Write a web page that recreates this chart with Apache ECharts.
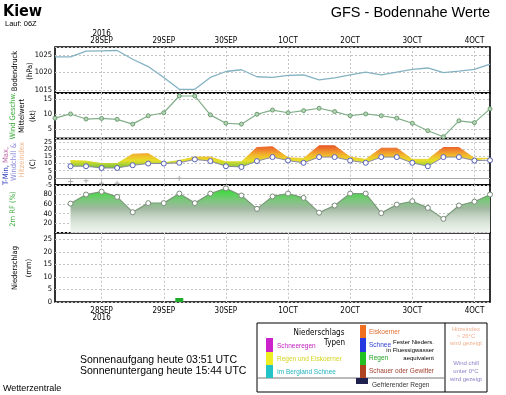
<!DOCTYPE html>
<html><head><meta charset="utf-8">
<script src="https://cdn.jsdelivr.net/npm/echarts@6/dist/echarts.min.js"></script>
<style>html,body{margin:0;padding:0;background:#fff}#c{width:506px;height:395px}</style>
</head><body><div id="c"></div>
<script>
// ---------- data ----------
const hours = [-18,-12,-6,0,6,12,18,24,30,36,42,48,54,60,66,72,78,84,90,96,102,108,114,120,126,132,138,144,150];
const dayHours = [0,24,48,72,96,120,144];
const dayNames = ['28SEP','29SEP','30SEP','1OCT','2OCT','3OCT','4OCT'];
const yearLabel = '2016';
const pressure = [1024.5,1024.5,1026.1,1026.2,1026.3,1023.8,1021.7,1018.6,1015.2,1015.2,1018.6,1020.3,1020.8,1018.8,1018.6,1019.2,1019.3,1017.9,1018.5,1019.3,1020.1,1019.3,1020.1,1020.9,1021.3,1020.0,1020.4,1020.9,1022.4];
const wind = [8.6,10,8.3,8.5,8.2,6.6,9.4,10.4,16,16,9.7,6.9,6.6,9.9,11.3,10.4,11.1,11.9,10.8,9.4,10,9.4,8.6,6.9,4.4,2.4,7.7,7.1,11.7];
const tempLow = [null,8.1,8.1,6.9,6.9,8.8,10,10,10.5,12.9,11.7,8.1,7.6,11.7,14.5,12.1,10.5,14.5,14.5,12.1,10.5,14.5,14.5,10.5,8.1,14.5,14.5,12.1,12.3];
const tempHigh = [null,12.1,11.7,10,10,16.5,16.9,10.5,12.1,14.5,14.5,11.2,11.2,21.2,21.7,14,13.6,22.4,22.4,14.5,12.9,20.7,20.7,12.9,12.9,21.2,21.2,13.6,13.6];
const windchill = [null,-2.6,-2.1,-3.8,-3.8,null,null,null,-0.2,null,null,null,null,null,null,null,null,null,null,null,null,null,null,null,null,null,null,null,null];
const rh = [null,61,80,86,75,43,62,62,82,62,82,93,78,50,76,82,73,42,57,82,82,41,59,66,52,29,57,65,80];
const precip = [null,null,null,null,null,null,null,null,1.6,null,null,null,null,null,null,null,null,null,null,null,null,null,null,null,null,null,null,null,null];

// ---------- helpers ----------
const FN = '"Liberation Sans Narrow","DejaVu Sans Condensed","Liberation Sans",sans-serif';
const FS = '"Liberation Sans","DejaVu Sans",sans-serif';
const band = tempHigh.map((h, i) => (h == null || tempLow[i] == null) ? null : +(h - tempLow[i]).toFixed(2));
const isDay = (idx, val) => Number(val) % 24 === 0;
const splitStyle = {color:'#c4c4c4', type:[2,2], width:1};

function xa(i, pos, showLabel, fmt, margin) {
  return {type:'category', gridIndex:i, data:hours, boundaryGap:false, position:pos,
    axisLine:{show:false}, axisTick:{show:false},
    axisLabel:{show:showLabel, interval:isDay, formatter:fmt, fontSize:8, lineHeight:7.5, color:'#000', fontFamily:FN, margin:margin||3},
    splitLine:{show:true, interval:isDay, lineStyle:splitStyle}};
}
function ya(i, o, lab) {
  return Object.assign({type:'value', gridIndex:i, axisLine:{show:false}, axisTick:{show:false},
    axisLabel:Object.assign({fontSize:7.5, color:'#000', fontFamily:FN, margin:3, formatter:v => String(v)}, lab||{}),
    splitLine:{show:true, lineStyle:splitStyle}}, o);
}
const topFmt = v => { const k = dayHours.indexOf(Number(v)); return k < 0 ? '' : (k === 0 ? yearLabel + '\n' : '') + dayNames[k]; };
const botFmt = v => { const k = dayHours.indexOf(Number(v)); return k < 0 ? '' : dayNames[k] + (k === 0 ? '\n' + yearLabel : ''); };

const gridBase = {left:55, right:16, show:true, borderColor:'#000', borderWidth:1.6};
const grids = [
  {top:47, height:46},
  {top:93, height:45.5},
  {top:138.5, height:46.5},
  {top:185, height:47.7},
  {top:232.7, height:69.3}
].map(g => Object.assign({}, gridBase, g));

function txt(x, y, text, font, fill, align, rot, extra) {
  const st = Object.assign({text:text, font:font, fill:fill||'#000', align:align||'left', textAlign:align||'left', verticalAlign:'middle', textVerticalAlign:'middle'}, extra||{});
  const el = {type:'text', x:x, y:y, style:st, silent:true};
  if (rot) el.rotation = rot;
  return el;
}
function rect(x, y, w, h, fill, stroke) {
  return {type:'rect', shape:{x:x, y:y, width:w, height:h}, style:{fill:fill||'none', stroke:stroke||null, lineWidth:1}, silent:true};
}
function line(x1, y1, x2, y2, c) {
  return {type:'line', shape:{x1:x1, y1:y1, x2:x2, y2:y2}, style:{stroke:c||'#000', lineWidth:1}, silent:true};
}
const R90 = Math.PI / 2;
const f6 = '6.5px ' + FS;

const graphics = [
  txt(3, 12, 'Kiew', 'bold 16px ' + FN, '#000'),
  txt(5, 24, 'Lauf: 06Z', '7.5px ' + FS, '#000'),
  txt(490, 13, 'GFS - Bodennahe Werte', '14.5px ' + FS, '#000', 'right'),
  // left panel labels
  txt(15, 71, 'Bodendruck', '7.5px ' + FN, '#000', 'center', R90),
  txt(30, 71, '(hPa)', '7.5px ' + FN, '#000', 'center', R90),
  txt(13, 116, 'Wind Geschw.', '7.5px ' + FN, '#3caa3c', 'center', R90),
  txt(22, 116, 'Mittelwert', '7.5px ' + FN, '#000', 'center', R90),
  txt(33, 116, '(kt)', '7.5px ' + FN, '#000', 'center', R90),
  txt(6, 166, '{a|T-Min,} {b|Max,}', '7.5px ' + FN, '#3040c0', 'center', R90,
      {rich:{a:{fill:'#2838b8', font:'7.5px ' + FN}, b:{fill:'#c06aa8', font:'7.5px ' + FN}}}),
  txt(14, 162, 'Windchill &', '7.5px ' + FN, '#8a8ad8', 'center', R90),
  txt(22, 160, 'Hitzeindex', '7.5px ' + FN, '#f0b890', 'center', R90),
  txt(33, 164, '(C)', '7.5px ' + FN, '#000', 'center', R90),
  txt(13, 209, '2m RF (%)', '7.5px ' + FN, '#3caa3c', 'center', R90),
  txt(15, 268, 'Niederschlag', '7.5px ' + FN, '#000', 'center', R90),
  txt(29, 268, '(mm)', '7.5px ' + FN, '#000', 'center', R90),
  // sun text
  txt(80, 360, 'Sonnenaufgang heute 03:51 UTC', '10.5px ' + FS, '#000'),
  txt(80, 371, 'Sonnenuntergang heute 15:44 UTC', '10.5px ' + FS, '#000'),
  txt(3, 389, 'Wetterzentrale', '9px ' + FS, '#000'),
  // legend box
  rect(257, 323, 230, 69, 'none', '#000'),
  line(445, 323, 445, 392, '#000'),
  line(257, 378, 445, 378, '#777'),
  txt(319, 333, 'Niederschlags', '8px ' + FN, '#000', 'center'),
  txt(345, 343, 'Typen', '8px ' + FN, '#000', 'right'),
  rect(266, 338, 7, 14, '#cc22cc'),
  rect(266, 352, 7, 13, '#eeee22'),
  rect(266, 365, 7, 13, '#22c4c8'),
  txt(277, 346, 'Schneeregen', f6, '#c020c0'),
  txt(277, 359, 'Regen und Eiskoerner', f6, '#d4d420'),
  txt(277, 372, 'Im Bergland Schnee', f6, '#20b4bc'),
  rect(360, 325, 6, 13, '#f07020'),
  rect(360, 338, 6, 14, '#2838e0'),
  rect(360, 352, 6, 13, '#22c022'),
  rect(360, 365, 6, 13, '#b04422'),
  txt(369, 332, 'Eiskoerner', f6, '#e07030'),
  txt(369, 345, 'Schnee', f6, '#3040d0'),
  txt(369, 358, 'Regen', f6, '#20a020'),
  txt(369, 371, 'Schauer oder Gewitter', f6, '#a04030'),
  txt(434, 342, 'Fester Nieders.', '6px ' + FS, '#000', 'right'),
  txt(434, 350, 'in Fluessigwasser', '6px ' + FS, '#000', 'right'),
  txt(434, 358, 'aequivalent', '6px ' + FS, '#000', 'right'),
  rect(356, 378, 12, 6, '#202050'),
  txt(372, 385, 'Gefrierender Regen', f6, '#333'),
  txt(466, 329, 'Hitzeindex', '6px ' + FS, '#f0b090', 'center'),
  txt(466, 336, '> 26°C', '6px ' + FS, '#f0b090', 'center'),
  txt(466, 343, 'wird gezeigt', '6px ' + FS, '#f0b090', 'center'),
  txt(466, 363, 'Wind chill', '6px ' + FS, '#9080c8', 'center'),
  txt(466, 371, 'unter 0°C', '6px ' + FS, '#9080c8', 'center'),
  txt(466, 379, 'wird gezeigt', '6px ' + FS, '#9080c8', 'center')
];

const option = {
  animation:false,
  backgroundColor:'#fff',
  grid:grids,
  xAxis:[xa(0,'top',true,topFmt,2), xa(1,'bottom',false), xa(2,'bottom',false), xa(3,'bottom',false), xa(4,'bottom',true,botFmt,5)],
  yAxis:[
    ya(0,{min:1014.15, max:1027.3, splitNumber:3},{showMinLabel:false, showMaxLabel:false}),
    ya(1,{min:1.8, max:17, splitNumber:3},{showMinLabel:false, showMaxLabel:false}),
    ya(2,{min:-5, max:27.5, interval:5},{showMinLabel:true, showMaxLabel:false, fontSize:7}),
    ya(3,{min:0, max:100, interval:20},{showMinLabel:false, showMaxLabel:false}),
    ya(4,{min:0, max:27.6, interval:5},{showMinLabel:true, showMaxLabel:false})
  ],
  visualMap:[{type:'continuous', show:false, seriesIndex:3, dimension:1, min:4, max:24,
    inRange:{color:['#3cb043','#8cc83a','#e6e02a','#f2b62c','#ee7a2e','#e4441e']}}],
  series:[
    {type:'line', xAxisIndex:0, yAxisIndex:0, data:pressure, symbol:'none',
     lineStyle:{color:'#84b2c2', width:1.3}, itemStyle:{color:'#84b2c2'}},
    {type:'line', xAxisIndex:1, yAxisIndex:1, data:wind, symbol:'circle', symbolSize:4,
     lineStyle:{color:'#80ae88', width:1.2}, itemStyle:{color:'#b4d4b4', borderColor:'#6e9e74', borderWidth:1}},
    {type:'line', xAxisIndex:2, yAxisIndex:2, data:tempLow, stack:'t', symbol:'circle', symbolSize:5, z:4,
     lineStyle:{color:'#8a8aa0', width:1}, itemStyle:{color:'#fff', borderColor:'#5560b8', borderWidth:1}},
    {type:'line', xAxisIndex:2, yAxisIndex:2, data:band, stack:'t', symbol:'none', z:3,
     lineStyle:{width:1}, areaStyle:{opacity:1}},
    {type:'scatter', xAxisIndex:2, yAxisIndex:2, data:windchill, symbol:'path://M2,0H3V2H5V3H3V5H2V3H0V2H2Z', symbolSize:5,
     itemStyle:{color:'#9a9a9a'},
     markLine:{silent:true, symbol:'none', label:{show:false}, lineStyle:{color:'#a8a8a8', type:'solid', width:1}, data:[{yAxis:0}]}},
    {type:'line', xAxisIndex:3, yAxisIndex:3, data:rh, symbol:'circle', symbolSize:5,
     lineStyle:{color:'#7a9a7a', width:1.2}, itemStyle:{color:'#fff', borderColor:'#7a8a7a', borderWidth:1},
     areaStyle:{opacity:1, color:new echarts.graphic.LinearGradient(0,0,0,1,[
       {offset:0, color:'#2ee02e'},{offset:0.25, color:'#78c878'},{offset:0.45, color:'#a0b8a0'},
       {offset:0.6, color:'#c0d0c0'},{offset:0.8, color:'#dde8dd'},{offset:1, color:'#f0f5f0'}])}},
    {type:'bar', xAxisIndex:4, yAxisIndex:4, data:precip, barWidth:8, itemStyle:{color:'#1faa2a'}}
  ],
  graphic:{elements:graphics}
};
const chart = echarts.init(document.getElementById('c'));
chart.setOption(option);
</script>
</body></html>
